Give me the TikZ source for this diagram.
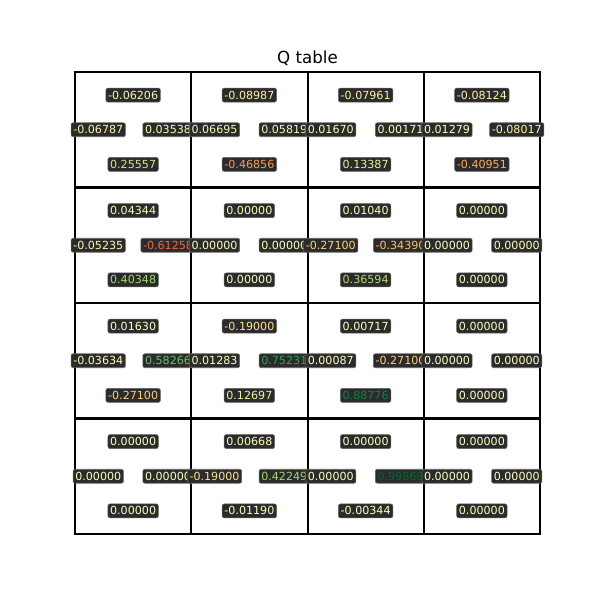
\documentclass[tikz,border=0pt]{standalone}
\usepackage{fontspec}
\setmainfont{DejaVu Sans}
\usepackage{xcolor}
\newcommand{\qpos}[2]{%
  \pgfmathsetmacro\qcx{75+116.25*(#2+0.5)}%
  \pgfmathsetmacro\qcy{72+115.5*(#1+0.5)}%
}
\newcommand{\qcell}[9]{%
  \node[qval] (q#1u) at (\qcx,\qcy-34.65) {\textcolor[HTML]{#3}{#2}};
  \node[qval] (q#1l) at (\qcx-34.875,\qcy) {\textcolor[HTML]{#5}{#4}};
  \node[qval] (q#1r) at (\qcx+34.875,\qcy) {\textcolor[HTML]{#7}{#6}};
  \node[qval] (q#1d) at (\qcx,\qcy+34.65) {\textcolor[HTML]{#9}{#8}};
}
\begin{document}
\begin{tikzpicture}[x=0.01in,y=-0.01in,
  qval/.style={fill={rgb,255:red,43;green,43;blue,43}, draw={rgb,255:red,100;green,100;blue,100},
    line width=0.4pt, rounded corners=1.5pt, inner xsep=1.6pt, inner ysep=0pt,
    minimum height=10.1pt, font=\fontsize{8.03}{9.6}\selectfont},
  gridline/.style={line width=1.45pt, black}]
\fill[white] (0,0) rectangle (600,600);
\useasboundingbox (0,0) rectangle (600,600);
\node[anchor=base, font=\fontsize{12.04}{14}\selectfont] (title) at (307.5,63.7) {Q table};
\foreach \k in {1,2,3} {
  \draw[gridline] (75+116.25*\k,72) -- (75+116.25*\k,534);
  \draw[gridline] (75,72+115.5*\k) -- (540,72+115.5*\k);
}
\draw[gridline] (75,72) rectangle (540,534);
% row 0
\qpos{0}{0}\qcell{00}{-0.06206}{FFF5AE}{-0.06787}{FFF4AD}{0.03538}{F8FCB6}{0.25557}{CBE982}
\qpos{0}{1}\qcell{01}{-0.08987}{FFF1A8}{0.06695}{F2FAAE}{0.05819}{F4FAB0}{-0.46856}{FA9857}
\qpos{0}{2}\qcell{02}{-0.07961}{FFF2AA}{0.01670}{FCFEBA}{0.00171}{FFFFBF}{0.13387}{E6F49C}
\qpos{0}{3}\qcell{03}{-0.08124}{FFF2AA}{0.01279}{FCFEBB}{-0.08017}{FFF2AA}{-0.40951}{FDAB60}
% row 1
\qpos{1}{0}\qcell{10}{0.04344}{F7FBB4}{-0.05235}{FFF6B0}{-0.61258}{F26941}{0.40348}{A5D86A}
\qpos{1}{1}\qcell{11}{0.00000}{FFFFBF}{0.00000}{FFFFBF}{0.00000}{FFFFBF}{0.00000}{FFFFBF}
\qpos{1}{2}\qcell{12}{0.01040}{FDFEBC}{-0.27100}{FECE7C}{-0.34390}{FDBC6D}{0.36594}{AFDD70}
\qpos{1}{3}\qcell{13}{0.00000}{FFFFBF}{0.00000}{FFFFBF}{0.00000}{FFFFBF}{0.00000}{FFFFBF}
% row 2
\qpos{2}{0}\qcell{20}{0.01630}{FCFEBB}{-0.03634}{FFF9B5}{0.58266}{6CBF64}{-0.27100}{FECE7C}
\qpos{2}{1}\qcell{21}{-0.19000}{FEE28E}{0.01283}{FCFEBB}{0.75231}{2CA155}{0.12697}{E7F59E}
\qpos{2}{2}\qcell{22}{0.00717}{FEFEBD}{0.00087}{FFFFBF}{-0.27100}{FECE7C}{0.88776}{0F8345}
\qpos{2}{3}\qcell{23}{0.00000}{FFFFBF}{0.00000}{FFFFBF}{0.00000}{FFFFBF}{0.00000}{FFFFBF}
% row 3
\qpos{3}{0}\qcell{30}{0.00000}{FFFFBF}{0.00000}{FFFFBF}{0.00000}{FFFFBF}{0.00000}{FFFFBF}
\qpos{3}{1}\qcell{31}{0.00668}{FEFEBD}{-0.19000}{FEE28E}{0.42249}{9FD669}{-0.01190}{FFFDBD}
\qpos{3}{2}\qcell{32}{0.00000}{FFFFBF}{0.00000}{FFFFBF}{0.99869}{006837}{-0.00344}{FFFEBF}
\qpos{3}{3}\qcell{33}{0.00000}{FFFFBF}{0.00000}{FFFFBF}{0.00000}{FFFFBF}{0.00000}{FFFFBF}
\end{tikzpicture}
\end{document}
